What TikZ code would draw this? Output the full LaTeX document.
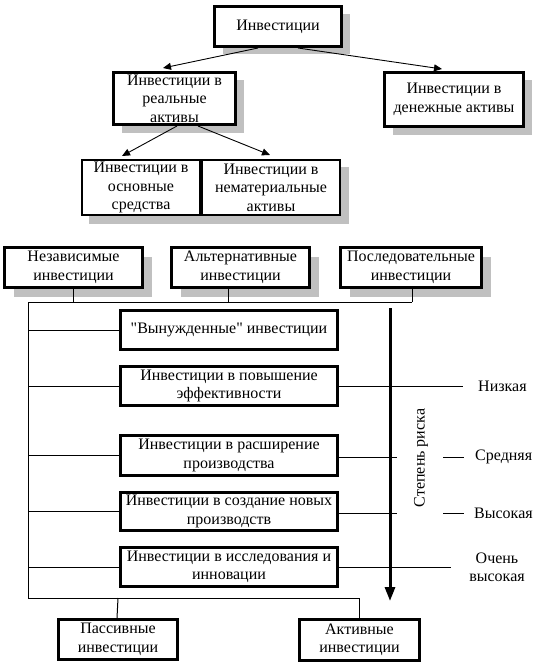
\documentclass[tikz,border=0pt]{standalone}
\usepackage{fontspec}
\setmainfont{Liberation Serif}
\newfontfamily\plainlib{Liberation Serif}
\usetikzlibrary{arrows.meta,shadows}
\definecolor{shgray}{RGB}{192,192,192}
\begin{document}
\begin{tikzpicture}[x=1pt,y=-1pt,
  every node/.style={font=\plainlib\fontsize{16}{18.5}\selectfont, align=center, inner sep=0pt},
  bx/.style={draw, line width=3pt, fill=white},
  tbx/.style={draw, line width=2pt, fill=white},
  sh/.style={general shadow={fill=shgray, shadow xshift=8pt, shadow yshift=-8pt}},
  sh9/.style={general shadow={fill=shgray, shadow xshift=9pt, shadow yshift=-9pt}},
  ln/.style={line width=1pt},
  arr/.style={line width=0.9pt, -{Triangle[length=8pt,width=7pt]}},
  riskarr/.style={line width=3pt, -{Triangle[length=14pt,width=10pt]}}
]
\useasboundingbox (0,0) rectangle (548,666);

% top level
\node[bx, sh, minimum width=127pt, minimum height=40pt] (top) at (278,26.5) {Инвестиции};
\node[bx, sh, minimum width=122pt, minimum height=52pt] (real) at (174.5,98.5) {Инвестиции в\\реальные\\активы};
\node[bx, sh, minimum width=139pt, minimum height=54pt] (money) at (454,99.5) {Инвестиции в\\денежные активы};

% shadow behind pair
\fill[shgray] (89,167) rectangle (349,224);
\node[tbx, minimum width=118pt, minimum height=55pt] (basic) at (141,187.5) {Инвестиции в\\основные\\средства};
\node[tbx, minimum width=138pt, minimum height=55pt] (intang) at (271,187.5) {Инвестиции в\\нематериальные\\активы};

\draw[arr] ([xshift=-20pt]top.south) -- ([xshift=-11.5pt,yshift=3pt]real.north);
\draw[arr] ([xshift=20pt]top.south) -- ([xshift=-12pt,yshift=2pt]money.north);
\draw[arr] ([xshift=2.5pt]real.south) -- ([xshift=-19pt,yshift=3pt]basic.north);
\draw[arr] ([xshift=23.5pt]real.south) -- ([xshift=-1pt,yshift=4pt]intang.north);

% row of three
\node[bx, sh9, minimum width=138pt, minimum height=40pt] (indep) at (73.5,267.5) {Независимые\\инвестиции};
\node[bx, sh9, minimum width=138pt, minimum height=40pt] (alt) at (240.5,267.5) {Альтернативные\\инвестиции};
\node[bx, sh9, minimum width=141pt, minimum height=40pt] (seq) at (411,267.5) {Последовательные\\инвестиции};

\coordinate (jl) at (28,302);
\coordinate (jr) at (412,302);
\coordinate (bl) at (28,598);
\draw[ln] (indep.south) -- (indep.south |- jl);
\draw[ln] ([xshift=-12.5pt]alt.south) -- ([xshift=-12.5pt]alt.south |- jl);
\draw[ln] (seq.south -| jr) -- (jr);
\draw[ln] (jr) -- (jl) -- (bl);

% middle boxes
\node[bx, minimum width=217pt, minimum height=39pt] (m1) at (229,330) {"Вынужденные" инвестиции};
\node[bx, minimum width=217pt, minimum height=39pt] (m2) at (229,386) {Инвестиции в повышение\\эффективности};
\node[bx, minimum width=217pt, minimum height=40pt] (m3) at (229,455.5) {Инвестиции в расширение\\производства};
\node[bx, minimum width=217pt, minimum height=38pt] (m4) at (229,511.5) {Инвестиции в создание новых\\производств};
\node[bx, minimum width=217pt, minimum height=39pt] (m5) at (229,567) {Инвестиции в исследования и\\инновации};

\foreach \m in {m1,m2,m3,m4,m5} {
  \draw[ln] (\m.west) -- (\m.west -| jl);
}

% bottom boxes
\node[bx, minimum width=119pt, minimum height=40pt] (pass) at (118,639.5) {Пассивные\\инвестиции};
\node[bx, minimum width=120pt, minimum height=41pt] (act) at (359.5,640) {Активные\\инвестиции};
\draw[ln] (bl) -- (act.north |- bl) -- (act.north);
\draw[ln] (pass.north |- bl) -- ([xshift=-1pt]pass.north);

% risk arrow
\coordinate (rtop) at (390,308);
\coordinate (rbot) at (390,601);
\draw[riskarr] (rtop) -- (rbot);
\node[rotate=90] (risk) at (421,458) {Степень риска};

% risk levels
\node[anchor=west] (low) at (478,386) {Низкая};
\node[anchor=west] (mid) at (475,457) {Средняя};
\node[anchor=west] (high) at (474,513) {Высокая};
\node (vhigh) at (497,567.5) {Очень\\высокая};

\draw[ln] (m2.east) -- ([xshift=-15pt]low.west);
\draw[ln] (m3.east |- mid) -- (397,457);
\draw[ln] ([xshift=-32pt]mid.west) -- ([xshift=-11pt]mid.west);
\draw[ln] (m4.east |- high) -- (397,513);
\draw[ln] ([xshift=-31pt]high.west) -- ([xshift=-10pt]high.west);
\draw[ln] (m5.east |- vhigh) -- (451,567.5);
\end{tikzpicture}
\end{document}
